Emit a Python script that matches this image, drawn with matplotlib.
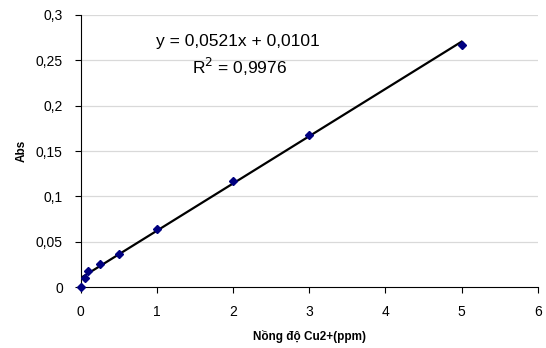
import matplotlib
matplotlib.use("Agg")
import matplotlib.pyplot as plt
import numpy as np

conc = [0, 0.05, 0.1, 0.25, 0.5, 1, 2, 3, 5]
absv = [0, 0.010, 0.018, 0.025, 0.037, 0.064, 0.117, 0.168, 0.267]
slope, intercept = 0.0521, 0.0101
yticks = [0, 0.05, 0.1, 0.15, 0.2, 0.25, 0.3]
ytick_labels = ["0", "0,05", "0,1", "0,15", "0,2", "0,25", "0,3"]
xticks = [0, 1, 2, 3, 4, 5, 6]

plt.rcParams['font.family'] = ['Liberation Sans', 'DejaVu Sans']

fig = plt.figure(figsize=(5.46, 3.48), dpi=100)
ax = fig.add_axes([0.148, 0.175, 0.837, 0.782])

for y in yticks[1:]:
    ax.axhline(y, color='#d9d9d9', lw=0.9, zorder=0)

xl = np.array([0, 5])
ax.plot(xl, slope * xl + intercept, color='black', lw=1.6, zorder=2)
ax.plot(conc, absv, linestyle='none', marker='D', markersize=4.3,
        color='#000080', zorder=3, clip_on=False)

ax.set_xlim(0, 6)
ax.set_ylim(0, 0.3)
ax.set_xticks(xticks)
ax.set_xticklabels([str(v) for v in xticks])
ax.set_yticks(yticks)
ax.set_yticklabels(ytick_labels)
ax.tick_params(labelsize=10, direction='out', length=4, width=0.8, pad=9)
ax.spines['top'].set_visible(False)
ax.spines['right'].set_visible(False)

ax.set_xlabel("Nồng độ Cu2+(ppm)", fontsize=8.5, fontweight='bold', labelpad=8)
ax.set_ylabel("Abs", fontsize=8.5, fontweight='bold', labelpad=6)

ax.text(2.06, 0.2702, "y = 0,0521x + 0,0101", fontsize=12.5, ha='center', va='center')
ax.text(2.09, 0.2426, "R$^2$ = 0,9976", fontsize=12.5, ha='center', va='center')

fig.savefig("out.png", dpi=100)
